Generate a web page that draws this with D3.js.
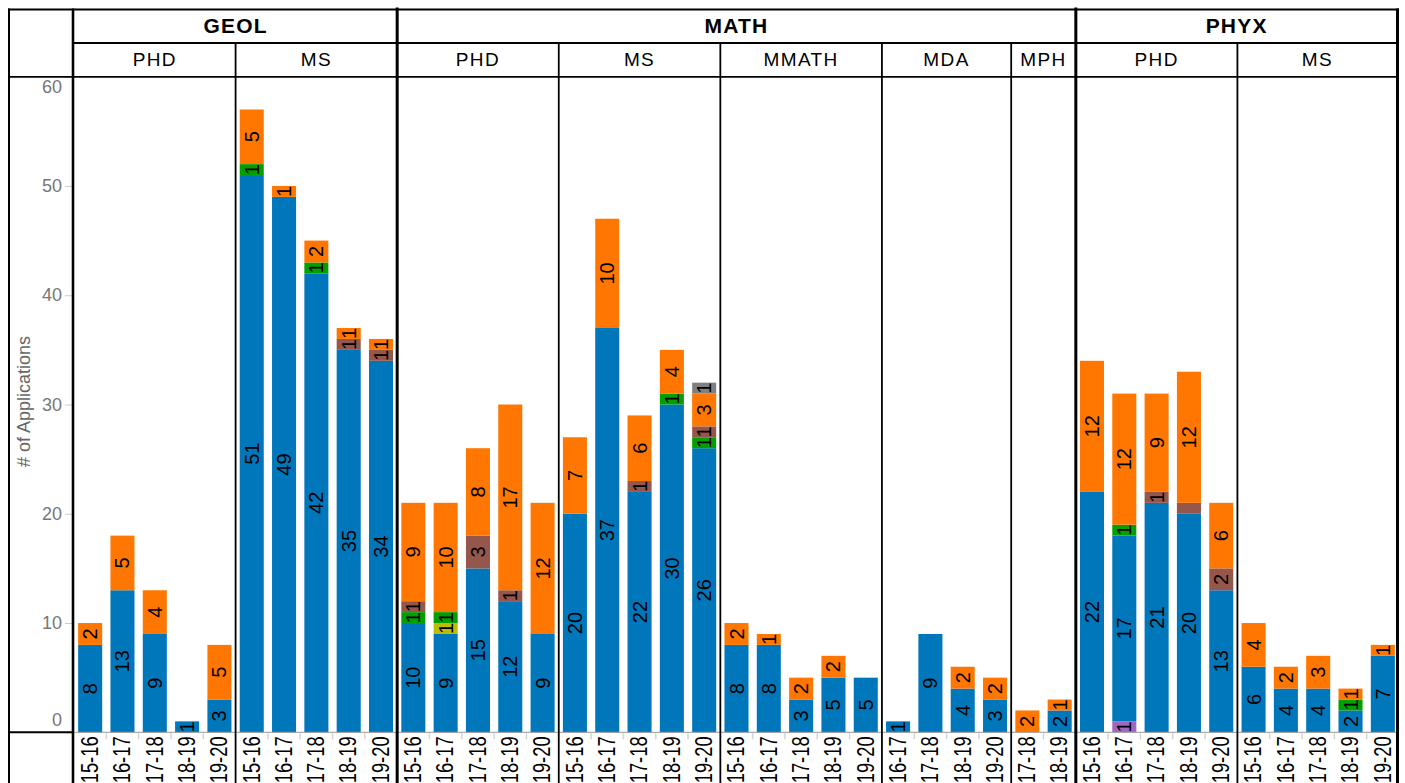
<!DOCTYPE html>
<html><head><meta charset="utf-8">
<script src="https://cdn.jsdelivr.net/npm/d3@7"></script>
<style>
body{margin:0;background:#fff}
svg{display:block}
text{font-family:"Liberation Sans",Arial,sans-serif}
</style>
</head><body>
<svg id="chart" width="1405" height="783"></svg>
<script>
// ---------- DATA ----------
const departments = ["GEOL", "MATH", "PHYX"];
const programs = ["PHD", "MS", "PHD", "MS", "MMATH", "MDA", "MPH", "PHD", "MS"];
const programDept = ["GEOL", "GEOL", "MATH", "MATH", "MATH", "MATH", "MATH", "PHYX", "PHYX"];
const programYears = [
  ["15-16", "16-17", "17-18", "18-19", "19-20"],
  ["15-16", "16-17", "17-18", "18-19", "19-20"],
  ["15-16", "16-17", "17-18", "18-19", "19-20"],
  ["15-16", "16-17", "17-18", "18-19", "19-20"],
  ["15-16", "16-17", "17-18", "18-19", "19-20"],
  ["16-17", "17-18", "18-19", "19-20"],
  ["17-18", "18-19"],
  ["15-16", "16-17", "17-18", "18-19", "19-20"],
  ["15-16", "16-17", "17-18", "18-19", "19-20"]
];
// series values, one per bar, in the order of programs / years above
//                 GEOL PHD      GEOL MS            MATH PHD         MATH MS            MMATH         MDA        MPH   PHYX PHD           PHYX MS
const purpleVals = [0,0,0,0,0,  0,0,0,0,0,        0,0,0,0,0,       0,0,0,0,0,         0,0,0,0,0,    0,0,0,0,   0,0,  0,1,0,0,0,         0,0,0,0,0];
const blueVals   = [8,13,9,1,3, 51,49,42,35,34,   10,9,15,12,9,    20,37,22,30,26,    8,8,3,5,5,    1,9,4,3,   0,2,  22,17,21,20,13,    6,4,4,2,7];
const oliveVals  = [0,0,0,0,0,  0,0,0,0,0,        0,1,0,0,0,       0,0,0,0,0,         0,0,0,0,0,    0,0,0,0,   0,0,  0,0,0,0,0,         0,0,0,0,0];
const greenVals  = [0,0,0,0,0,  1,0,1,0,0,        1,1,0,0,0,       0,0,0,1,1,         0,0,0,0,0,    0,0,0,0,   0,0,  0,1,0,0,0,         0,0,0,1,0];
const brownVals  = [0,0,0,0,0,  0,0,0,1,1,        1,0,3,1,0,       0,0,1,0,1,         0,0,0,0,0,    0,0,0,0,   0,0,  0,0,1,1,2,         0,0,0,0,0];
const orangeVals = [2,5,4,0,5,  5,1,2,1,1,        9,10,8,17,12,    7,10,6,4,3,        2,1,2,2,0,    0,0,2,2,   2,1,  12,12,9,12,6,      4,2,3,1,1];
const grayVals   = [0,0,0,0,0,  0,0,0,0,0,        0,0,0,0,0,       0,0,0,0,1,         0,0,0,0,0,    0,0,0,0,   0,0,  0,0,0,0,0,         0,0,0,0,0];

const seriesKeys = ["purple", "blue", "olive", "green", "brown", "orange", "gray"];
const seriesColors = ["#a066c0", "#0177bb", "#bdbd00", "#01a001", "#95564b", "#ff7700", "#808080"];
const yTicks = [0, 10, 20, 30, 40, 50, 60];
const yTitle = "# of Applications";
// labels suppressed in the original (series, bar index)
const hiddenLabels = [["brown", 34]];

// ---------- BUILD ROWS ----------
const seriesValues = {purple: purpleVals, blue: blueVals, olive: oliveVals, green: greenVals, brown: brownVals, orange: orangeVals, gray: grayVals};
const rows = [];
const panelInfo = [];
programs.forEach((p, pi) => {
  const start = rows.length;
  programYears[pi].forEach(yr => {
    const i = rows.length;
    const r = {i, dept: programDept[pi], prog: p, year: yr, panel: pi};
    seriesKeys.forEach(k => r[k] = seriesValues[k][i]);
    rows.push(r);
  });
  panelInfo.push({pi, dept: programDept[pi], prog: p, start, end: rows.length});
});

// ---------- LAYOUT ----------
const svg = d3.select("#chart");
const L = 74, R = 1399, TOP = 9.5, ROW1 = 43, ROW2 = 76.8, BASE = 732.3, BOTTOM = 783, LEFT = 9, RIGHT = 1397.5;
const x = d3.scaleBand().domain(d3.range(rows.length)).range([L, R]).paddingInner(0.256).paddingOuter(0.128);
const y = d3.scaleLinear().domain([0, 60]).range([BASE, 76.7]);
const step = x.step();
const boundary = i => L + i * step;
const color = d3.scaleOrdinal().domain(seriesKeys).range(seriesColors);

const stacked = d3.stack().keys(seriesKeys)(rows);

// bars
const g = svg.append("g");
stacked.forEach(s => {
  g.selectAll(null).data(s.filter(d => d[1] - d[0] > 0)).join("rect")
    .attr("x", d => x(d.data.i))
    .attr("width", x.bandwidth())
    .attr("y", d => y(d[1]))
    .attr("height", d => y(d[0]) - y(d[1]))
    .attr("fill", color(s.key));
});

// bar labels
stacked.forEach(s => {
  g.selectAll(null)
    .data(s.filter(d => d[1] - d[0] > 0 && !hiddenLabels.some(h => h[0] === s.key && h[1] === d.data.i)))
    .join("text")
    .attr("transform", d => `translate(${x(d.data.i) + x.bandwidth() / 2},${(y(d[0]) + y(d[1])) / 2}) rotate(-90)`)
    .attr("text-anchor", "middle")
    .attr("dominant-baseline", "central")
    .attr("font-size", 20)
    .attr("fill", "#000")
    .text(d => d[1] - d[0]);
});

// baseline
svg.append("line").attr("x1", L).attr("x2", RIGHT).attr("y1", BASE).attr("y2", BASE)
  .attr("stroke", "#999").attr("stroke-width", 1);

// x ticks between bars inside each panel
const innerBounds = rows.filter(r => panelInfo[r.panel].start !== r.i).map(r => r.i);
svg.append("g").selectAll("line").data(innerBounds).join("line")
  .attr("x1", i => boundary(i)).attr("x2", i => boundary(i))
  .attr("y1", BASE + 1).attr("y2", BASE + 7)
  .attr("stroke", "#d4d4d4").attr("stroke-width", 1.5);

// x labels
svg.append("g").selectAll("text").data(rows).join("text")
  .attr("transform", d => `translate(${x(d.i) + x.bandwidth() / 2 - 0.5},${BASE + 4}) rotate(-90) scale(0.8,1)`)
  .attr("text-anchor", "end")
  .attr("dominant-baseline", "central")
  .attr("font-size", 23)
  .attr("fill", "#000")
  .text(d => d.year);

// y axis
const yAxis = svg.append("g").attr("transform", `translate(${L - 2},0)`)
  .call(d3.axisLeft(y).tickValues(yTicks).tickSize(7).tickPadding(3));
yAxis.select(".domain").remove();
yAxis.selectAll(".tick line").attr("stroke", "#ccc");
yAxis.selectAll(".tick text")
  .attr("font-size", 18).attr("fill", "#777")
  .attr("font-family", "Liberation Sans, Arial, sans-serif")
  .attr("dy", d => d === 0 ? "-0.37em" : d === 60 ? "0.85em" : "0.32em");

svg.append("text")
  .attr("transform", `translate(24,${(BASE + 76.7) / 2 - 3}) rotate(-90)`)
  .attr("text-anchor", "middle").attr("dominant-baseline", "central")
  .attr("font-size", 18).attr("fill", "#666").text(yTitle);

// ---------- FRAME / HEADERS ----------
const frame = svg.append("g").attr("stroke", "#000").attr("fill", "none");
// top border
frame.append("line").attr("x1", LEFT - 1).attr("x2", RIGHT + 1.5).attr("y1", TOP).attr("y2", TOP).attr("stroke-width", 1.8);
// row separators
frame.append("line").attr("x1", L).attr("x2", RIGHT).attr("y1", ROW1).attr("y2", ROW1).attr("stroke-width", 1.8);
frame.append("line").attr("x1", LEFT - 1).attr("x2", RIGHT).attr("y1", ROW2).attr("y2", ROW2).attr("stroke-width", 1.8);
// bottom of y-axis column
frame.append("line").attr("x1", LEFT - 1).attr("x2", L).attr("y1", BASE).attr("y2", BASE).attr("stroke-width", 2);
// left border
frame.append("line").attr("x1", LEFT).attr("x2", LEFT).attr("y1", TOP - 1).attr("y2", BOTTOM).attr("stroke-width", 2);
// y-axis column right edge
frame.append("line").attr("x1", L - 1).attr("x2", L - 1).attr("y1", TOP - 1).attr("y2", BOTTOM).attr("stroke-width", 2.6);

// program separators & dept separators
panelInfo.forEach((p, k) => {
  if (k === 0) return;
  const bx = boundary(p.start);
  const newDept = panelInfo[k - 1].dept !== p.dept;
  frame.append("line").attr("x1", bx).attr("x2", bx)
    .attr("y1", newDept ? TOP - 2 : ROW1).attr("y2", BOTTOM)
    .attr("stroke-width", newDept ? 3 : 1.8);
});
// right border
frame.append("line").attr("x1", RIGHT).attr("x2", RIGHT).attr("y1", TOP - 1).attr("y2", BOTTOM).attr("stroke-width", 3);

// dept labels
departments.forEach(dn => {
  const ps = panelInfo.filter(p => p.dept === dn);
  const x0 = boundary(ps[0].start), x1 = Math.min(boundary(ps[ps.length - 1].end), RIGHT);
  svg.append("text").attr("x", (x0 + x1) / 2).attr("y", (TOP + ROW1) / 2 - 0.5)
    .attr("text-anchor", "middle").attr("dominant-baseline", "central")
    .attr("font-size", 21).attr("font-weight", "bold").attr("letter-spacing", 1.2)
    .attr("fill", "#000").text(dn);
});
// program labels
panelInfo.forEach(p => {
  const x0 = boundary(p.start), x1 = Math.min(boundary(p.end), RIGHT);
  svg.append("text").attr("x", (x0 + x1) / 2).attr("y", (ROW1 + ROW2) / 2 - 0.5)
    .attr("text-anchor", "middle").attr("dominant-baseline", "central")
    .attr("font-size", 19).attr("letter-spacing", 1.4)
    .attr("fill", "#000").text(p.prog);
});
</script>
</body></html>
